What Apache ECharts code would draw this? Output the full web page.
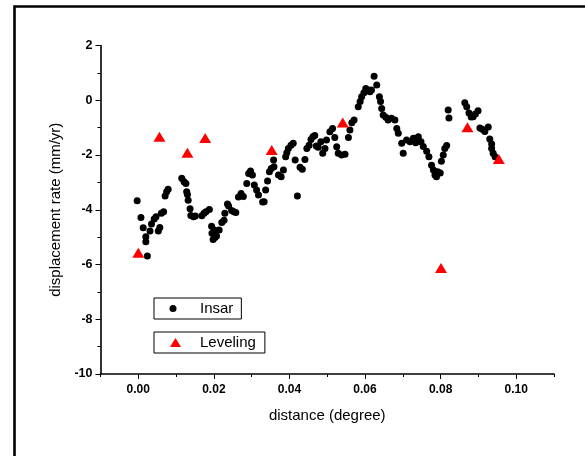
<!DOCTYPE html>
<html>
<head>
<meta charset="utf-8">
<script src="https://cdn.jsdelivr.net/npm/echarts@6/dist/echarts.min.js"></script>
<style>html,body{margin:0;padding:0;background:#fff;}#c{width:585px;height:456px;}</style>
</head>
<body>
<div id="c"></div>
<script>
// InSAR points: distance (degree) and displacement rate (mm/yr)
var insarDist = [-0.0003,0.0007,0.0013,0.0020,0.0020,0.0024,0.0031,0.0035,0.0042,0.0047,0.0053,0.0057,0.0061,0.0067,0.0071,0.0075,0.0079,
  0.0115,0.0121,0.0126,0.0128,0.0130,0.0132,0.0137,0.0139,0.0146,0.0151,0.0168,0.0174,0.0179,0.0188,0.0194,0.0195,0.0198,0.0201,0.0203,0.0207,
  0.0214,0.0221,0.0227,0.0229,0.0236,0.0239,0.0247,0.0253,0.0258,0.0265,0.0272,0.0278,0.0287,0.0292,0.0297,0.0302,0.0307,0.0313,0.0318,
  0.0329,0.0333,0.0337,0.0342,0.0347,0.0352,0.0359,0.0358,0.0371,0.0378,0.0384,0.0390,0.0393,0.0397,0.0404,0.0410,0.0415,0.0421,0.0428,
  0.0434,0.0441,0.0446,0.0452,0.0457,0.0462,0.0467,0.0471,0.0476,0.0483,0.0488,0.0494,0.0498,0.0507,0.0514,0.0520,0.0525,0.0529,0.0538,
  0.0547,0.0556,0.0560,0.0565,0.0571,0.0582,0.0587,0.0591,0.0597,0.0602,0.0608,0.0613,0.0617,0.0624,0.0631,0.0638,0.0641,0.0644,0.0648,
  0.0655,0.0661,0.0670,0.0679,0.0684,0.0688,0.0697,0.0701,0.0710,0.0719,0.0728,0.0734,0.0741,0.0748,0.0754,0.0763,0.0769,0.0776,0.0781,
  0.0785,0.0789,0.0792,0.0799,0.0802,0.0807,0.0811,0.0816,0.0820,0.0822,0.0864,0.0869,0.0875,0.0881,0.0886,0.0892,0.0899,0.0904,0.0910,
  0.0917,0.0926,0.0930,0.0935,0.0935,0.0939,0.0944];
var insarRate = [-3.67,-4.28,-4.66,-4.99,-5.17,-5.69,-4.78,-4.52,-4.34,-4.26,-4.78,-4.65,-4.13,-4.07,-3.50,-3.34,-3.25,
  -2.85,-2.98,-3.04,-3.34,-3.44,-3.65,-3.96,-4.21,-4.26,-4.23,-4.22,-4.13,-4.07,-3.99,-4.60,-4.86,-5.09,-4.74,-5.01,-4.96,
  -4.74,-4.47,-4.38,-4.13,-3.79,-3.86,-4.03,-4.07,-4.10,-3.53,-3.41,-3.52,-3.04,-2.68,-2.58,-2.73,-3.10,-3.28,-3.46,
  -3.72,-3.71,-3.28,-2.95,-2.61,-2.49,-2.43,-2.18,-2.73,-2.79,-2.55,-2.06,-1.92,-1.76,-1.64,-1.57,-2.18,-3.50,-2.45,
  -2.52,-2.16,-1.76,-1.64,-1.43,-1.33,-1.29,-1.67,-1.72,-1.52,-1.94,-1.76,-1.45,-1.15,-1.03,-1.36,-1.70,-1.94,-2.00,
  -1.97,-1.36,-1.09,-0.82,-0.72,-0.24,-0.05,0.13,0.27,0.43,0.37,0.31,0.37,0.88,0.56,0.13,-0.05,-0.30,-0.54,
  -0.62,-0.72,-0.66,-0.72,-1.03,-1.21,-1.57,-1.94,-1.45,-1.52,-1.39,-1.55,-1.33,-1.52,-1.69,-1.86,-2.06,-2.37,-2.55,
  -2.73,-2.79,-2.61,-2.66,-2.23,-2.00,-1.76,-1.65,-0.36,-0.65,-0.09,-0.24,-0.47,-0.61,-0.60,-0.50,-0.38,-1.01,-1.06,
  -1.14,-0.98,-1.42,-1.60,-1.76,-1.94,-2.06];
// Leveling points
var levelDist = [0.0000,0.0056,0.0130,0.0177,0.0353,0.0541,0.0801,0.0871,0.0954];
var levelRate = [-5.57,-1.33,-1.92,-1.38,-1.82,-0.81,-6.13,-0.99,-2.15];
// Tick values
var xMajorTicks = [0.00,0.02,0.04,0.06,0.08,0.10];
var xMinorTicks = [-0.01,0.01,0.03,0.05,0.07,0.09,0.11];

function pairs(a,b){ return a.map(function(v,i){ return [v,b[i]]; }); }

var FONT = "'Liberation Sans', Arial, sans-serif";
var chart = echarts.init(document.getElementById('c'), null, {renderer:'canvas'});
chart.setOption({
  backgroundColor:'#fff',
  animation:false,
  graphic:[{type:'rect', shape:{x:14.5, y:6.5, width:700, height:600}, style:{fill:'none', stroke:'#000', lineWidth:2.6}, silent:true, z:-1}],
  grid:{left:100.5, right:31, top:45.5, bottom:82},
  legend:[
    {data:[{name:'Insar', icon:'circle', itemStyle:{color:'#000', opacity:1}}], left:154, top:298, orient:'vertical',
     padding:[3,8,3,15.5], itemWidth:7, itemHeight:7, itemGap:0, selectedMode:false,
     borderColor:'#000', borderWidth:1,
     textStyle:{fontFamily:FONT, fontSize:15, color:'#000', padding:[0,0,0,18.5]}},
    {data:[{name:'Leveling', icon:'triangle', itemStyle:{color:'#ff0000', opacity:1}}], left:154, top:332, orient:'vertical',
     padding:[3,9,3,16], itemWidth:11, itemHeight:9, itemGap:0, selectedMode:false,
     borderColor:'#000', borderWidth:1,
     textStyle:{fontFamily:FONT, fontSize:15, color:'#000', padding:[0,0,0,14]}}
  ],
  xAxis:[{
    type:'value', min:-0.01, max:0.11,
    name:'distance (degree)', nameLocation:'middle', nameGap:34,
    nameTextStyle:{fontFamily:FONT, fontSize:15, color:'#000'},
    axisLine:{show:true, onZero:false, lineStyle:{color:'#000', width:1.6}},
    axisTick:{show:true, customValues:xMajorTicks, length:5, lineStyle:{color:'#000', width:1}},
    axisLabel:{customValues:xMajorTicks, formatter:function(v){return v.toFixed(2);}, margin:10,
      fontFamily:FONT, fontSize:12, fontWeight:'bold', color:'#000'},
    splitLine:{show:false}
  },{
    type:'value', min:-0.01, max:0.11, position:'bottom',
    axisLine:{show:false, onZero:false},
    axisTick:{show:true, customValues:xMinorTicks, length:3, lineStyle:{color:'#000', width:1}},
    axisLabel:{show:false}, splitLine:{show:false}
  }],
  yAxis:{
    type:'value', min:-10, max:2, interval:2,
    name:'displacement rate (mm/yr)', nameLocation:'middle', nameGap:36,
    nameTextStyle:{fontFamily:FONT, fontSize:15, color:'#000'},
    axisLine:{show:true, onZero:false, lineStyle:{color:'#000', width:1.6}},
    axisTick:{show:true, length:5, lineStyle:{color:'#000', width:1}},
    minorTick:{show:true, splitNumber:2, length:3, lineStyle:{color:'#000', width:1}},
    axisLabel:{margin:8, fontFamily:FONT, fontSize:12.5, fontWeight:'bold', color:'#000'},
    splitLine:{show:false}
  },
  series:[
    {name:'Insar', type:'scatter', xAxisIndex:0, data:pairs(insarDist, insarRate),
     symbol:'circle', symbolSize:7, itemStyle:{color:'#000', opacity:1}},
    {name:'Leveling', type:'scatter', xAxisIndex:0, data:pairs(levelDist, levelRate),
     symbol:'triangle', symbolSize:[12,10], itemStyle:{color:'#ff0000', opacity:1}}
  ]
});
</script>
</body>
</html>
